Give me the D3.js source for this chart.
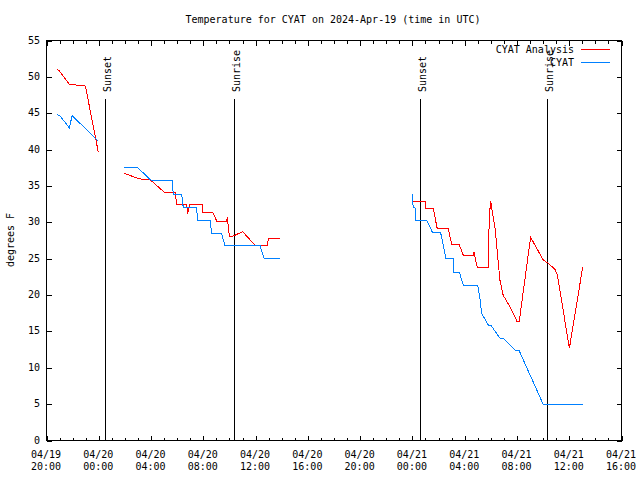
<!DOCTYPE html>
<html>
<head>
<meta charset="utf-8">
<script src="https://cdn.jsdelivr.net/npm/d3@7"></script>
<style>
html,body{margin:0;padding:0;background:#fff;}
svg{display:block;}
text{font-family:"DejaVu Sans Mono",monospace;font-size:10px;fill:#000;}
</style>
</head>
<body>
<svg id="chart" width="640" height="480"></svg>
<script>
// ---- data ----
const titleText = "Temperature for CYAT on 2024-Apr-19 (time in UTC)";
const yLabelText = "degrees F";
const seriesNames = ["CYAT Analysis", "CYAT"];
const seriesColors = ["#ff0000", "#0080ff"];

// null entries mark gaps in the record
const analysisTimes = [
  "2024-04-19 20:52","2024-04-19 21:00","2024-04-19 21:47","2024-04-19 22:59","2024-04-19 23:04","2024-04-20 00:00",
  null,
  "2024-04-20 01:58","2024-04-20 02:59","2024-04-20 03:31","2024-04-20 03:58","2024-04-20 05:02","2024-04-20 05:52",
  "2024-04-20 06:00","2024-04-20 06:46","2024-04-20 06:50","2024-04-20 07:01","2024-04-20 07:58","2024-04-20 08:00",
  "2024-04-20 08:46","2024-04-20 09:04","2024-04-20 09:50","2024-04-20 09:52","2024-04-20 10:02","2024-04-20 10:20",
  "2024-04-20 11:03","2024-04-20 11:59","2024-04-20 12:56","2024-04-20 13:01","2024-04-20 13:54",
  null,
  "2024-04-21 00:02","2024-04-21 01:00","2024-04-21 01:04","2024-04-21 01:38","2024-04-21 01:56","2024-04-21 02:47",
  "2024-04-21 03:02","2024-04-21 03:36","2024-04-21 03:56","2024-04-21 04:42","2024-04-21 04:45","2024-04-21 05:00",
  "2024-04-21 05:51","2024-04-21 05:55","2024-04-21 06:02","2024-04-21 06:04","2024-04-21 06:22","2024-04-21 06:44",
  "2024-04-21 06:59","2024-04-21 07:31","2024-04-21 07:53","2024-04-21 08:01","2024-04-21 08:13","2024-04-21 09:05",
  "2024-04-21 10:03","2024-04-21 10:26","2024-04-21 10:57","2024-04-21 11:08","2024-04-21 12:03","2024-04-21 13:04"
];
const analysisTemps = [
  50.9,50.8,48.9,48.7,48.2,39.6,
  null,
  36.7,36.0,35.8,35.8,34.1,34.1,
  32.45,32.45,31.1,32.45,32.45,31.3,
  31.3,30.1,30.1,30.6,28.05,28.05,
  28.65,26.8,26.8,27.7,27.7,
  null,
  32.86,32.86,31.85,31.85,29.1,29.1,
  26.95,26.95,25.4,25.4,25.8,23.75,
  23.75,30.7,32.9,32.3,29.1,22.0,
  19.9,18.3,16.95,16.36,16.36,27.87,
  24.75,24.3,23.47,22.7,12.6,23.75
];

const obsTimes = [
  "2024-04-19 20:52","2024-04-19 21:04","2024-04-19 21:47","2024-04-19 22:00","2024-04-20 00:00",
  null,
  "2024-04-20 01:58","2024-04-20 02:59","2024-04-20 04:01","2024-04-20 05:40","2024-04-20 05:44","2024-04-20 06:23",
  "2024-04-20 06:30","2024-04-20 07:32","2024-04-20 07:35","2024-04-20 08:33","2024-04-20 08:41","2024-04-20 09:26",
  "2024-04-20 09:42","2024-04-20 12:23","2024-04-20 12:42","2024-04-20 13:54",
  null,
  "2024-04-21 00:02","2024-04-21 00:02","2024-04-21 00:07","2024-04-21 00:14","2024-04-21 00:17","2024-04-21 01:08",
  "2024-04-21 01:35","2024-04-21 02:12","2024-04-21 02:37","2024-04-21 03:10","2024-04-21 03:13","2024-04-21 03:38",
  "2024-04-21 03:56","2024-04-21 05:02","2024-04-21 05:13","2024-04-21 05:20","2024-04-21 05:51","2024-04-21 06:02",
  "2024-04-21 06:44","2024-04-21 06:59","2024-04-21 07:58","2024-04-21 08:13","2024-04-21 10:03","2024-04-21 13:04"
];
const obsTemps = [
  44.7,44.6,42.9,44.6,41.1,
  null,
  37.5,37.5,35.75,35.75,33.8,33.8,
  32.0,32.0,30.25,30.25,28.4,28.4,
  26.7,26.7,24.9,24.9,
  null,
  33.8,32.8,32.0,32.0,30.25,30.25,
  28.5,28.5,24.9,24.9,23.06,23.06,
  21.27,21.27,19.4,17.4,15.8,15.8,
  14.0,14.0,12.24,12.24,4.9,4.9
];

const sunEventTimes = ["2024-04-20 00:32","2024-04-20 10:25","2024-04-21 00:36","2024-04-21 10:22"];
const sunEventLabels = ["Sunset","Sunrise","Sunset","Sunrise"];

const xStart = "2024-04-19 20:00";
const xEnd = "2024-04-21 16:00";
const yTicks = [0,5,10,15,20,25,30,35,40,45,50,55];

// ---- chart ----
const parse = d3.utcParse("%Y-%m-%d %H:%M");
const svg = d3.select("#chart");
const L = 46, R = 621, T = 40, B = 440;

const x = d3.scaleUtc().domain([parse(xStart), parse(xEnd)]).range([L, R]);
const y = d3.scaleLinear().domain([0, 55]).range([B, T]);

const majorX = d3.utcHour.every(4).range(parse(xStart), d3.utcMinute.offset(parse(xEnd), 1));
const minorX = d3.utcHour.every(1).range(parse(xStart), d3.utcMinute.offset(parse(xEnd), 1));

const fmtDate = d3.utcFormat("%m/%d");
const fmtTime = d3.utcFormat("%H:%M");

const g = svg.append("g").attr("transform", "translate(0.5,0.5)");

// title
svg.append("text").attr("x", 333).attr("y", 23).attr("text-anchor", "middle").text(titleText);
// y label
svg.append("text").attr("transform", "translate(14,240) rotate(-90)")
  .attr("text-anchor", "middle").text(yLabelText);

// axes ticks
const axB = d3.axisBottom(x).tickValues(minorX).tickSize(-3).tickFormat("");
const axT = d3.axisTop(x).tickValues(minorX).tickSize(-3).tickFormat("");
const axBM = d3.axisBottom(x).tickValues(majorX).tickSize(-5).tickFormat("");
const axTM = d3.axisTop(x).tickValues(majorX).tickSize(-5).tickFormat("");
const axL = d3.axisLeft(y).tickValues(yTicks).tickSize(-5).tickFormat("");
const axR = d3.axisRight(y).tickValues(yTicks).tickSize(-5).tickFormat("");

function drawAxis(axis, tx, ty) {
  const a = g.append("g").attr("transform", `translate(${tx},${ty})`).call(axis);
  a.select(".domain").remove();
  a.selectAll("line").attr("stroke", "#000").attr("stroke-width", 1)
    .attr("shape-rendering", "crispEdges");
  return a;
}
drawAxis(axB, 0, B);
drawAxis(axT, 0, T);
drawAxis(axBM, 0, B);
drawAxis(axTM, 0, T);
drawAxis(axL, L, 0);
drawAxis(axR, R, 0);

// tick labels
const xl = svg.append("g");
majorX.forEach(d => {
  const t = xl.append("text").attr("x", x(d)).attr("text-anchor", "middle");
  t.append("tspan").attr("x", x(d)).attr("y", 458).text(fmtDate(d));
  t.append("tspan").attr("x", x(d)).attr("y", 470).text(fmtTime(d));
});
const yl = svg.append("g");
yTicks.forEach(v => {
  yl.append("text").attr("x", 40).attr("y", y(v) + 3.5).attr("text-anchor", "end").text(v);
});

// border
g.append("rect").attr("x", L).attr("y", T).attr("width", R - L).attr("height", B - T)
  .attr("fill", "none").attr("stroke", "#000").attr("stroke-width", 1)
  .attr("shape-rendering", "crispEdges");

// sunrise / sunset
sunEventTimes.forEach((s, i) => {
  const xp = Math.round(x(parse(s)));
  g.append("line").attr("x1", xp).attr("x2", xp).attr("y1", 98).attr("y2", B)
    .attr("stroke", "#000").attr("stroke-width", 1).attr("shape-rendering", "crispEdges");
  svg.append("text").attr("transform", `translate(${xp + 5.5},92) rotate(-90)`)
    .attr("text-anchor", "start").text(sunEventLabels[i]);
});

// series
function makeData(times, temps) {
  return times.map((t, i) => ({ t: t === null ? null : parse(t), v: temps[i] }));
}
const line = d3.line().defined(d => d.t !== null && d.v !== null)
  .x(d => x(d.t)).y(d => y(d.v));

const series = [makeData(analysisTimes, analysisTemps), makeData(obsTimes, obsTemps)];
series.forEach((data, i) => {
  svg.append("path").datum(data).attr("d", line)
    .attr("fill", "none").attr("stroke", seriesColors[i]).attr("stroke-width", 1)
    .attr("shape-rendering", "crispEdges");
});

// legend
seriesNames.forEach((n, i) => {
  const ly = 49.5 + i * 13;
  svg.append("text").attr("x", 574).attr("y", ly + 3.5).attr("text-anchor", "end").text(n);
  svg.append("line").attr("x1", 581).attr("x2", 610).attr("y1", ly).attr("y2", ly)
    .attr("stroke", seriesColors[i]).attr("stroke-width", 1);
});
</script>
</body>
</html>
